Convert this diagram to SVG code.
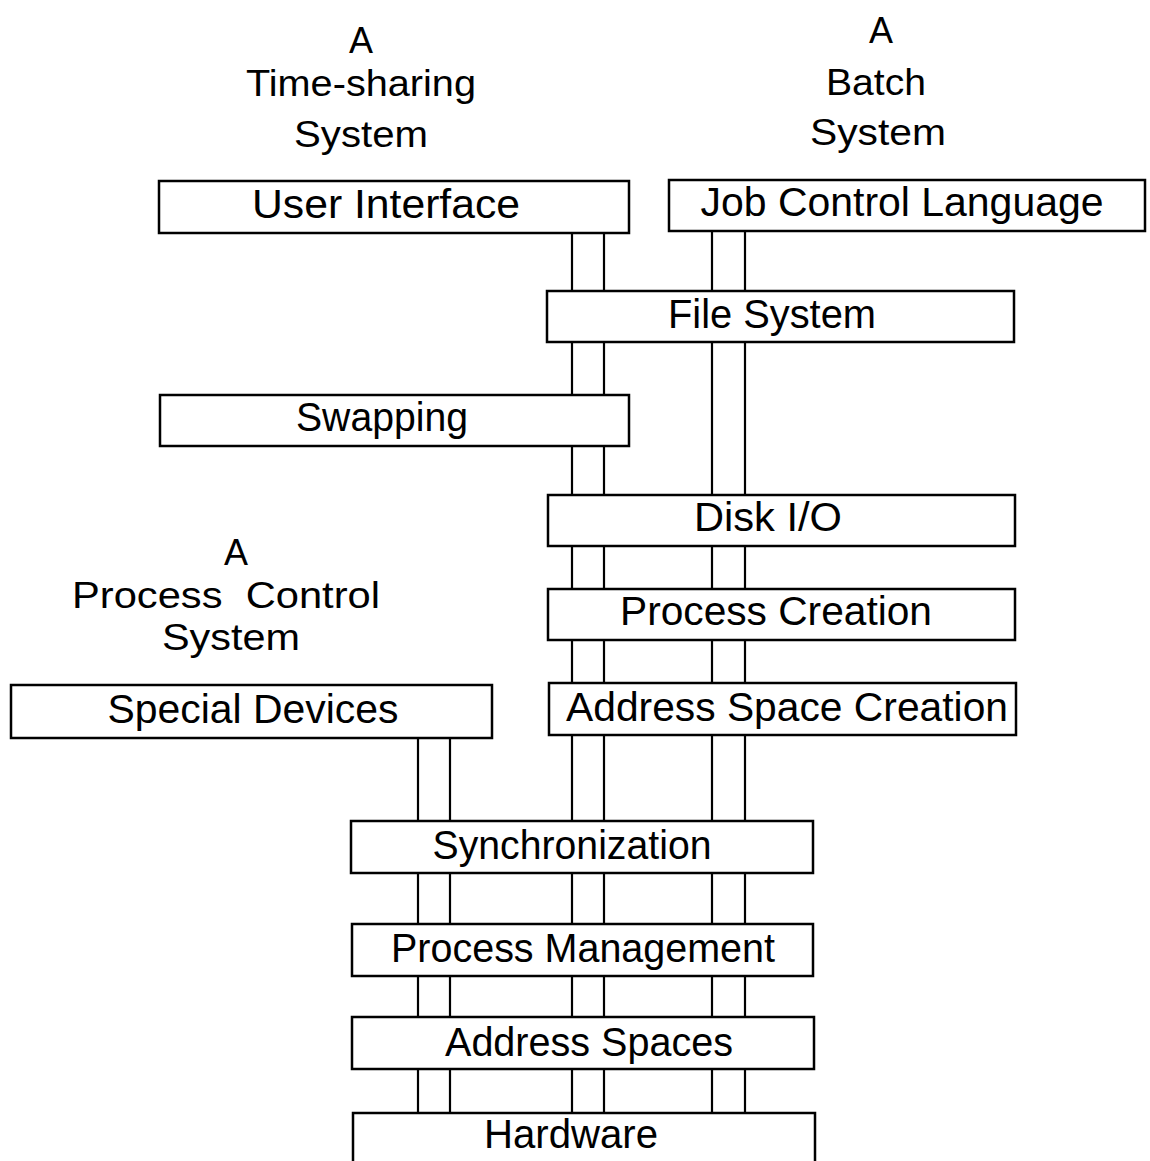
<svg xmlns="http://www.w3.org/2000/svg" width="1150" height="1161" viewBox="0 0 1150 1161">
<style>
.box{fill:#fff;stroke:#000;stroke-width:2.5}
.ln{stroke:#000;stroke-width:2.2;fill:none}
text{font-family:"Liberation Sans","DejaVu Sans",sans-serif;font-size:41px;fill:#000;text-anchor:middle}
.t{font-size:37px}
</style>
<rect width="1150" height="1161" fill="#fff"/>
<g id="titles">
<text class="t" x="361" y="53" textLength="24" lengthAdjust="spacingAndGlyphs">A</text>
<text class="t" x="361" y="96" textLength="230" lengthAdjust="spacingAndGlyphs">Time-sharing</text>
<text class="t" x="361" y="147" textLength="134" lengthAdjust="spacingAndGlyphs">System</text>
<text class="t" x="881" y="43" textLength="24" lengthAdjust="spacingAndGlyphs">A</text>
<text class="t" x="876" y="95" textLength="100" lengthAdjust="spacingAndGlyphs">Batch</text>
<text class="t" x="878" y="145" textLength="136" lengthAdjust="spacingAndGlyphs">System</text>
<text class="t" x="236" y="565" textLength="24" lengthAdjust="spacingAndGlyphs">A</text>
<text class="t" x="226" y="608" textLength="308" lengthAdjust="spacingAndGlyphs" xml:space="preserve">Process  Control</text>
<text class="t" x="231" y="650" textLength="138" lengthAdjust="spacingAndGlyphs">System</text>
</g>
<g id="connectors">
<line class="ln" x1="572" y1="233" x2="572" y2="1113"/>
<line class="ln" x1="604" y1="233" x2="604" y2="1113"/>
<line class="ln" x1="712" y1="231" x2="712" y2="1113"/>
<line class="ln" x1="745" y1="231" x2="745" y2="1113"/>
<line class="ln" x1="418" y1="738" x2="418" y2="1113"/>
<line class="ln" x1="450" y1="738" x2="450" y2="1113"/>
</g>
<g id="user-interface"><rect class="box" x="159" y="181" width="470" height="52"/><text x="386" y="218" textLength="268" lengthAdjust="spacingAndGlyphs">User Interface</text></g>
<g id="job-control-language"><rect class="box" x="669" y="180" width="476" height="51"/><text x="902" y="216" textLength="403" lengthAdjust="spacingAndGlyphs">Job Control Language</text></g>
<g id="file-system"><rect class="box" x="547" y="291" width="467" height="51"/><text x="772" y="328" textLength="208" lengthAdjust="spacingAndGlyphs">File System</text></g>
<g id="swapping"><rect class="box" x="160" y="395" width="469" height="51"/><text x="382" y="431" textLength="172" lengthAdjust="spacingAndGlyphs">Swapping</text></g>
<g id="disk-io"><rect class="box" x="548" y="495" width="467" height="51"/><text x="768" y="531" textLength="148" lengthAdjust="spacingAndGlyphs">Disk I/O</text></g>
<g id="process-creation"><rect class="box" x="548" y="589" width="467" height="51"/><text x="776" y="625" textLength="312" lengthAdjust="spacingAndGlyphs">Process Creation</text></g>
<g id="address-space-creation"><rect class="box" x="549" y="683" width="467" height="52"/><text x="787" y="721" textLength="442" lengthAdjust="spacingAndGlyphs">Address Space Creation</text></g>
<g id="special-devices"><rect class="box" x="11" y="685" width="481" height="53"/><text x="253" y="723" textLength="291" lengthAdjust="spacingAndGlyphs">Special Devices</text></g>
<g id="synchronization"><rect class="box" x="351" y="821" width="462" height="52"/><text x="572" y="859" textLength="279" lengthAdjust="spacingAndGlyphs">Synchronization</text></g>
<g id="process-management"><rect class="box" x="352" y="924" width="461" height="52"/><text x="583" y="962" textLength="384" lengthAdjust="spacingAndGlyphs">Process Management</text></g>
<g id="address-spaces"><rect class="box" x="352" y="1017" width="462" height="52"/><text x="589" y="1056" textLength="288" lengthAdjust="spacingAndGlyphs">Address Spaces</text></g>
<g id="hardware"><rect class="box" x="353" y="1113" width="462" height="60"/><text x="571" y="1148" textLength="174" lengthAdjust="spacingAndGlyphs">Hardware</text></g>
</svg>
